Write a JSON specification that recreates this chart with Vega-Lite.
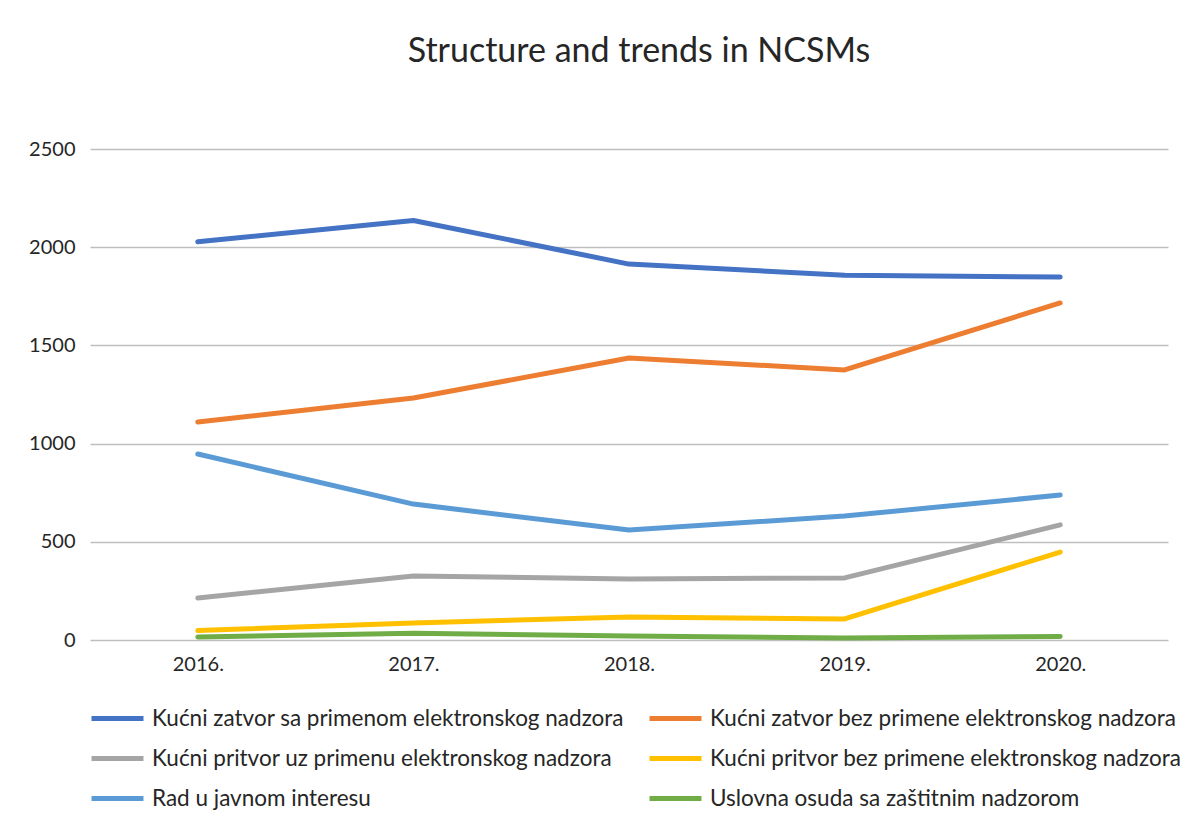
{
  "$schema": "https://vega.github.io/schema/vega-lite/v6.json",
  "width": 1078,
  "height": 491,
  "autosize": {"type": "none"},
  "padding": {"left": 90, "top": 149, "right": 17, "bottom": 186},
  "background": "white",
  "title": {
    "text": "Structure and trends in NCSMs",
    "font": "Lato",
    "fontSize": 34,
    "fontWeight": "normal",
    "color": "#262626",
    "anchor": "middle",
    "dx": 10,
    "offset": 70
  },
  "data": {
    "values": [
      {"year": "2016.", "series": "Kućni zatvor sa primenom elektronskog nadzora", "value": 2028},
      {"year": "2017.", "series": "Kućni zatvor sa primenom elektronskog nadzora", "value": 2136},
      {"year": "2018.", "series": "Kućni zatvor sa primenom elektronskog nadzora", "value": 1914},
      {"year": "2019.", "series": "Kućni zatvor sa primenom elektronskog nadzora", "value": 1857},
      {"year": "2020.", "series": "Kućni zatvor sa primenom elektronskog nadzora", "value": 1848},
      {"year": "2016.", "series": "Kućni zatvor bez primene elektronskog nadzora", "value": 1110},
      {"year": "2017.", "series": "Kućni zatvor bez primene elektronskog nadzora", "value": 1232},
      {"year": "2018.", "series": "Kućni zatvor bez primene elektronskog nadzora", "value": 1436},
      {"year": "2019.", "series": "Kućni zatvor bez primene elektronskog nadzora", "value": 1375},
      {"year": "2020.", "series": "Kućni zatvor bez primene elektronskog nadzora", "value": 1716},
      {"year": "2016.", "series": "Kućni pritvor uz primenu elektronskog nadzora", "value": 214},
      {"year": "2017.", "series": "Kućni pritvor uz primenu elektronskog nadzora", "value": 326},
      {"year": "2018.", "series": "Kućni pritvor uz primenu elektronskog nadzora", "value": 311},
      {"year": "2019.", "series": "Kućni pritvor uz primenu elektronskog nadzora", "value": 316},
      {"year": "2020.", "series": "Kućni pritvor uz primenu elektronskog nadzora", "value": 586},
      {"year": "2016.", "series": "Kućni pritvor bez primene elektronskog nadzora", "value": 48},
      {"year": "2017.", "series": "Kućni pritvor bez primene elektronskog nadzora", "value": 87},
      {"year": "2018.", "series": "Kućni pritvor bez primene elektronskog nadzora", "value": 117},
      {"year": "2019.", "series": "Kućni pritvor bez primene elektronskog nadzora", "value": 107},
      {"year": "2020.", "series": "Kućni pritvor bez primene elektronskog nadzora", "value": 448},
      {"year": "2016.", "series": "Rad u javnom interesu", "value": 947},
      {"year": "2017.", "series": "Rad u javnom interesu", "value": 692},
      {"year": "2018.", "series": "Rad u javnom interesu", "value": 560},
      {"year": "2019.", "series": "Rad u javnom interesu", "value": 631},
      {"year": "2020.", "series": "Rad u javnom interesu", "value": 738},
      {"year": "2016.", "series": "Uslovna osuda sa zaštitnim nadzorom", "value": 15},
      {"year": "2017.", "series": "Uslovna osuda sa zaštitnim nadzorom", "value": 34},
      {"year": "2018.", "series": "Uslovna osuda sa zaštitnim nadzorom", "value": 20},
      {"year": "2019.", "series": "Uslovna osuda sa zaštitnim nadzorom", "value": 10},
      {"year": "2020.", "series": "Uslovna osuda sa zaštitnim nadzorom", "value": 18}
    ]
  },
  "mark": {"type": "line", "strokeWidth": 5, "strokeCap": "round", "strokeJoin": "round"},
  "encoding": {
    "x": {
      "field": "year",
      "type": "ordinal",
      "scale": {"type": "point", "padding": 0.5},
      "axis": {
        "title": null,
        "labelAngle": 0,
        "labelFont": "Lato",
        "labelFontSize": 20,
        "labelColor": "#262626",
        "labelPadding": 14,
        "ticks": false,
        "domain": false,
        "grid": false
      }
    },
    "y": {
      "field": "value",
      "type": "quantitative",
      "scale": {"domain": [0, 2500], "nice": false},
      "axis": {
        "title": null,
        "values": [0, 500, 1000, 1500, 2000, 2500],
        "format": "d",
        "labelFont": "Lato",
        "labelFontSize": 20,
        "labelColor": "#262626",
        "labelPadding": 15,
        "ticks": false,
        "domain": false,
        "grid": true,
        "gridColor": "#BFBFBF",
        "gridWidth": 1.5
      }
    },
    "color": {
      "field": "series",
      "type": "nominal",
      "sort": null,
      "scale": {
        "domain": [
          "Kućni zatvor sa primenom elektronskog nadzora",
          "Kućni zatvor bez primene elektronskog nadzora",
          "Kućni pritvor uz primenu elektronskog nadzora",
          "Kućni pritvor bez primene elektronskog nadzora",
          "Rad u javnom interesu",
          "Uslovna osuda sa zaštitnim nadzorom"
        ],
        "range": ["#4472C4", "#ED7D31", "#A5A5A5", "#FFC000", "#5B9BD5", "#70AD47"]
      },
      "legend": {
        "title": null,
        "orient": "none",
        "direction": "horizontal",
        "legendX": -1,
        "legendY": 541,
        "padding": 0,
        "columns": 2,
        "columnPadding": 14,
        "rowPadding": -12,
        "symbolType": "stroke",
        "symbolSize": 2700,
        "symbolStrokeWidth": 5,
        "labelFont": "Lato",
        "labelFontSize": 22.5,
        "labelColor": "#262626",
        "labelOffset": 6,
        "labelLimit": 600
      }
    }
  },
  "config": {
    "view": {"stroke": null}
  }
}
